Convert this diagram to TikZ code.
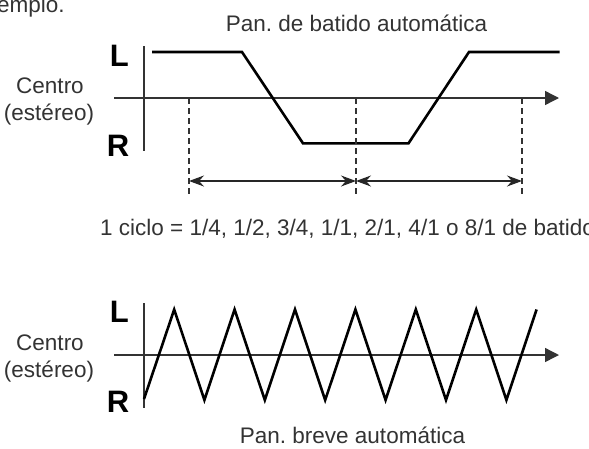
\documentclass[tikz,border=0pt]{standalone}
\usepackage{fontspec}
\setmainfont{Liberation Sans}
\usetikzlibrary{arrows.meta}
\frenchspacing
\begin{document}
\begin{tikzpicture}[x=1pt,y=-1pt,
  txt/.style={font=\fontsize{22.5}{27}\selectfont, text=black!80, inner sep=0pt},
  lr/.style={font=\fontsize{31}{34}\selectfont\bfseries, inner sep=0pt, text=black},
  axis/.style={line width=1.4pt, draw=black!80},
  wave/.style={line width=2.6pt, draw=black, line join=miter},
  guide/.style={line width=1.4pt, dash pattern=on 6pt off 4pt, draw=black!80},
  dim/.style={line width=1.3pt, draw=black!85, {Stealth[length=15pt,width=11pt,inset=5pt]}-{Stealth[length=15pt,width=11pt,inset=5pt]}},
  axarrow/.style={-{Triangle[length=14pt,width=14pt]}}
]
\useasboundingbox (0,0) rectangle (589,448);
\clip (0,0) rectangle (589,448);

% ---------- top diagram ----------
\node[txt, anchor=base west] (ex) at (-3,12.5) {emplo.};
\node[txt, anchor=base] (t1) at (356.5,31) {Pan. de batido automática};
\node[lr, anchor=base east] (L1) at (129,66.5) {L};
\node[lr, anchor=base east] (R1) at (129.5,156.5) {R};
\node[txt, anchor=base] (c1) at (50,93) {Centro};
\node[txt, anchor=base] (s1) at (49,120) {(estéreo)};

\coordinate (v1a) at (144,46);
\coordinate (v1b) at (144,150.5);
\coordinate (h1a) at (114,98);
\coordinate (h1b) at (559,98);
\draw[axis] (v1a) -- (v1b);
\draw[axis, axarrow] (h1a) -- (h1b);

\draw[wave] (152,52) -- (242,52) -- (303,143.3) -- (408.5,143.3) -- (469,52) -- (559.5,52);

\coordinate (g1a) at (189,98);  \coordinate (g1b) at (189,197);
\coordinate (g2a) at (356,98);  \coordinate (g2b) at (356,197);
\coordinate (g3a) at (522,98);  \coordinate (g3b) at (522,197);
\draw[guide] (g1a) -- (g1b);
\draw[guide] (g2a) -- (g2b);
\draw[guide] (g3a) -- (g3b);

\coordinate (d1) at (189,181);
\coordinate (d2) at (356,181);
\coordinate (d3) at (522,181);
\draw[dim] (d1) -- (d2);
\draw[dim] (d2) -- (d3);

\node[txt, anchor=base west] (cyc) at (100,235) {1 ciclo = 1/4, 1/2, 3/4, 1/1, 2/1, 4/1 o 8/1 de batido};

% ---------- bottom diagram ----------
\node[lr, anchor=base east] (L2) at (129,322.5) {L};
\node[lr, anchor=base east] (R2) at (129.5,412) {R};
\node[txt, anchor=base] (c2) at (50,350) {Centro};
\node[txt, anchor=base] (s2) at (49,377) {(estéreo)};

\coordinate (v2a) at (144,303);
\coordinate (v2b) at (144,408);
\coordinate (h2a) at (114,355);
\coordinate (h2b) at (559,355);
\draw[axis] (v2a) -- (v2b);
\draw[axis, axarrow] (h2a) -- (h2b);

\draw[wave] (144,399) -- (174.2,309.5) -- (204.4,400) -- (234.6,309.5) -- (264.8,400)
  -- (295,309.5) -- (325.2,400) -- (355.4,309.5) -- (385.6,400) -- (415.8,309.5)
  -- (446,400) -- (476.2,309.5) -- (506.4,400) -- (536.6,309.5);

\node[txt, anchor=base] (t2) at (352.5,443) {Pan. breve automática};
\end{tikzpicture}
\end{document}
